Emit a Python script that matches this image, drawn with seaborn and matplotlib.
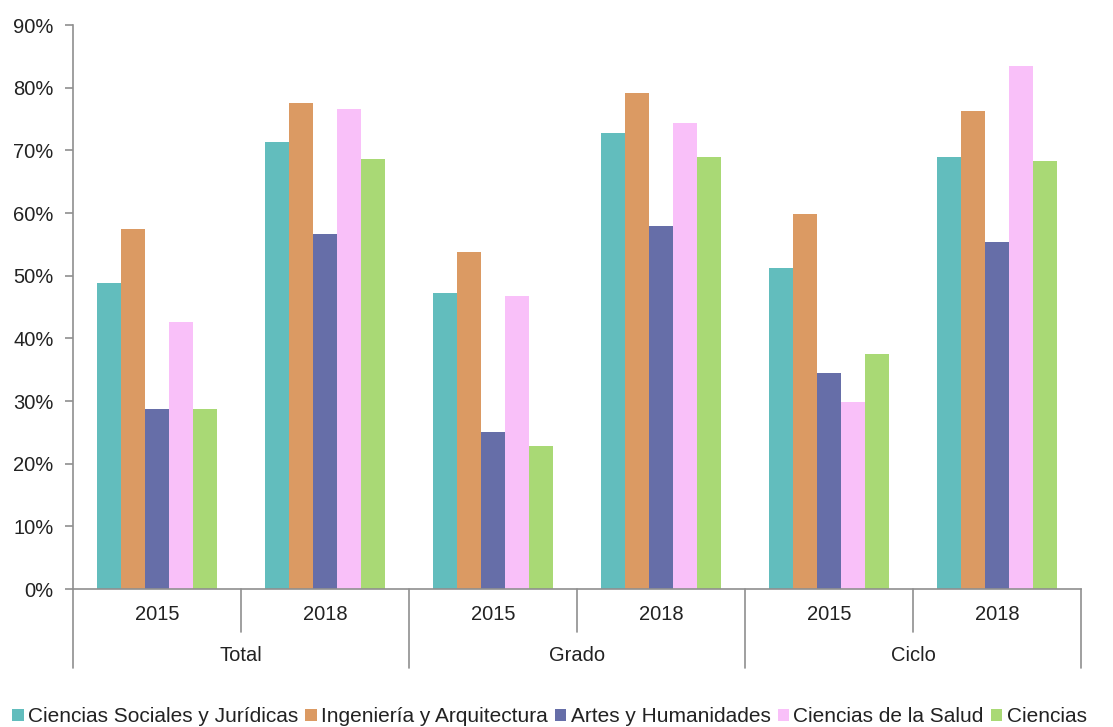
import pandas as pd
import matplotlib
matplotlib.use("Agg")
import matplotlib.pyplot as plt
import matplotlib.transforms as mtransforms
from matplotlib.patches import Patch
from matplotlib.ticker import PercentFormatter
import seaborn as sns

# Categories on the two-level x axis
CATEGORIES = ["Total", "Grado", "Ciclo"]
YEARS = ["2015", "2018"]

# Knowledge areas (legend) and their colours
AREAS = ["Ciencias Sociales y Jurídicas", "Ingeniería y Arquitectura",
         "Artes y Humanidades", "Ciencias de la Salud", "Ciencias"]
COLORS = ["#62BDBD", "#DB9A63", "#666EA8", "#F9C0F9", "#A9D975"]

# Values per area, in order: Total 2015, Total 2018, Grado 2015, Grado 2018, Ciclo 2015, Ciclo 2018
sociales = [0.488, 0.714, 0.472, 0.727, 0.513, 0.690]
ingenieria = [0.574, 0.775, 0.538, 0.791, 0.599, 0.763]
artes = [0.288, 0.567, 0.250, 0.580, 0.345, 0.554]
salud = [0.426, 0.766, 0.468, 0.743, 0.298, 0.834]
ciencias = [0.288, 0.686, 0.228, 0.689, 0.375, 0.683]

TEXT = "#222222"
AXIS = "#8f8f8f"
FS = 14.5

sns.set_theme(style="white")
plt.rcParams["font.family"] = ["Liberation Sans", "DejaVu Sans"]

slots = [f"{c} {y}" for c in CATEGORIES for y in YEARS]
rows = []
for area, vals in zip(AREAS, [sociales, ingenieria, artes, salud, ciencias]):
    for slot, v in zip(slots, vals):
        rows.append({"grupo": slot, "area": area, "valor": v})
df = pd.DataFrame(rows)

fig = plt.figure(figsize=(11.13, 7.27), dpi=100)
ax = fig.add_axes([0.0656, 0.1898, 0.9056, 0.7758])

sns.barplot(data=df, x="grupo", y="valor", hue="area", order=slots, hue_order=AREAS,
            palette=COLORS, width=0.715, gap=0, saturation=1, linewidth=0,
            legend=False, ax=ax)

ax.set_ylim(0, 0.9)
ax.set_xlim(-0.5, len(slots) - 0.5)
ax.set_yticks([i / 10 for i in range(10)])
ax.yaxis.set_major_formatter(PercentFormatter(1.0, decimals=0))
ax.tick_params(axis="y", direction="out", length=6, width=1.2, color=AXIS,
               labelsize=FS, labelcolor=TEXT, pad=8, left=True)
ax.tick_params(axis="x", length=0, labelbottom=False)
ax.set_xlabel("")
ax.set_ylabel("")
for s in ["top", "right"]:
    ax.spines[s].set_visible(False)
for s in ["left", "bottom"]:
    ax.spines[s].set_color(AXIS)
    ax.spines[s].set_linewidth(1.2)

# two-level category axis: year labels, category labels and separators
trans = mtransforms.blended_transform_factory(ax.transData, ax.transAxes)
centers = ax.get_xticks()
for i, x in enumerate(centers):
    ax.text(x, -0.046, YEARS[i % len(YEARS)], transform=trans, ha="center", va="center",
            fontsize=FS, color=TEXT)
for j, cat in enumerate(CATEGORIES):
    mid = (centers[2 * j] + centers[2 * j + 1]) / 2
    ax.text(mid, -0.117, cat, transform=trans, ha="center", va="center",
            fontsize=FS, color=TEXT)
for k in range(len(slots) + 1):
    depth = 0.140 if k % len(YEARS) == 0 else 0.076
    ax.plot([k - 0.5, k - 0.5], [0, -depth], transform=trans, color=AXIS,
            linewidth=1.2, clip_on=False)

handles = [Patch(facecolor=c, edgecolor="none") for c in COLORS]
fig.legend(handles, AREAS, loc="center left", bbox_to_anchor=(-0.006, 0.014), ncol=5,
           frameon=False, fontsize=15, handlelength=0.55, handleheight=0.55,
           handletextpad=0.2, columnspacing=0.35, labelcolor=TEXT)

fig.savefig("out.png", dpi=100)
